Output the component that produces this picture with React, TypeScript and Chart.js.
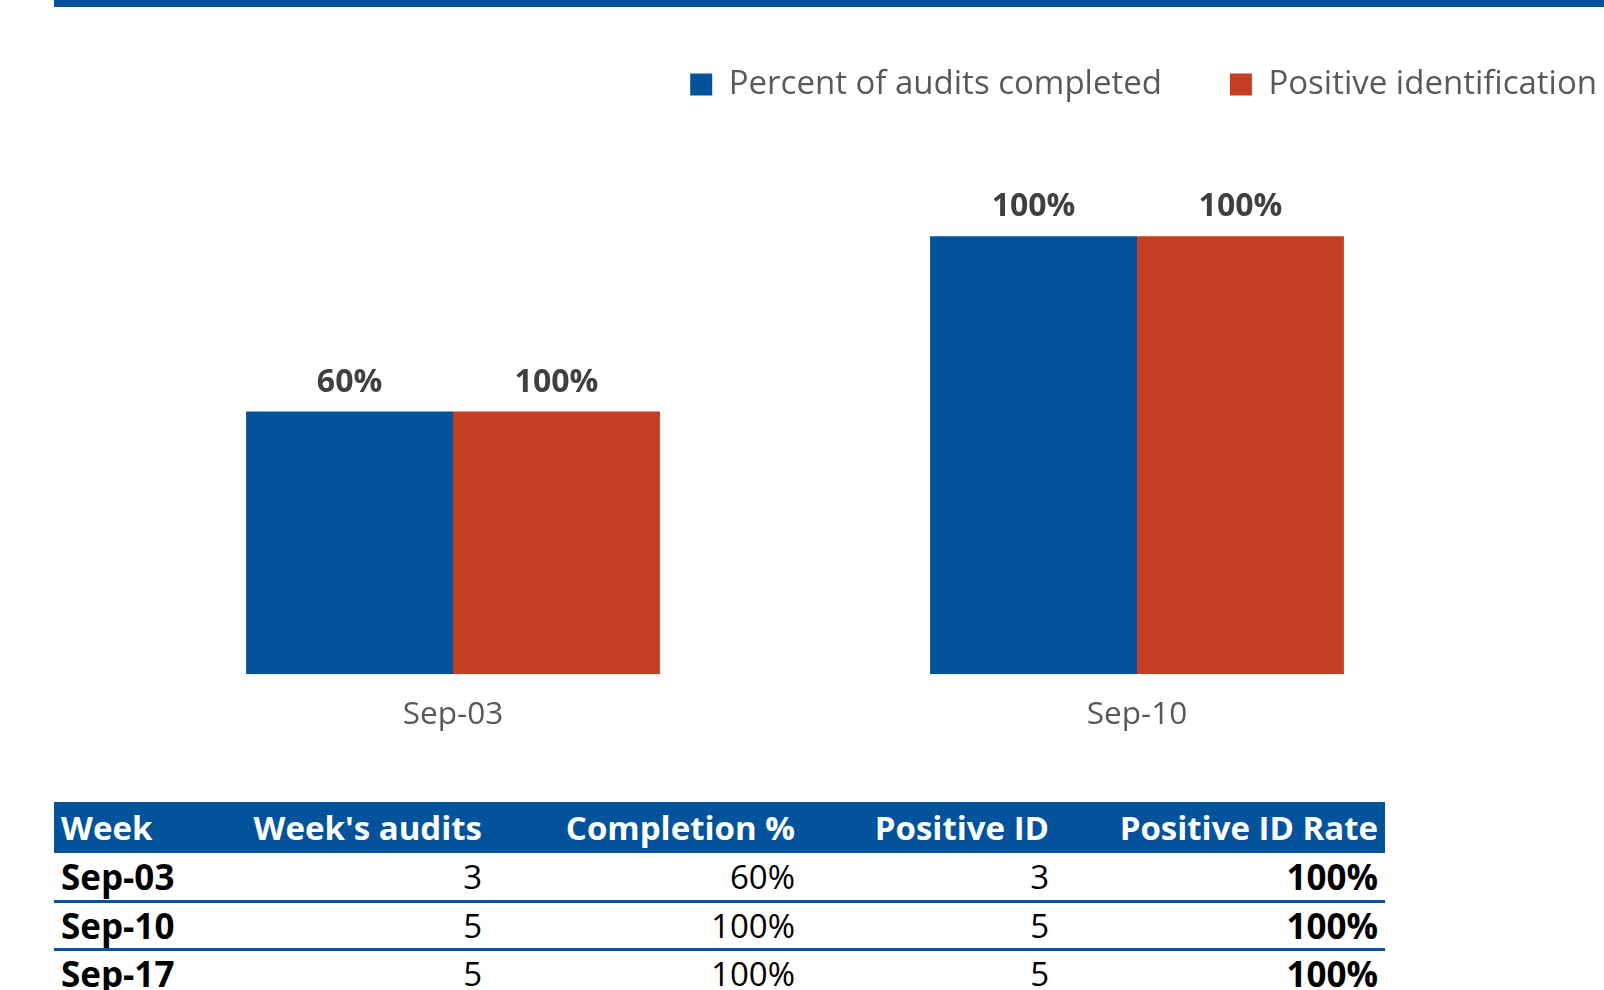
import React, { useEffect, useRef } from "react";
import { Chart, registerables } from "chart.js";

Chart.register(...registerables);

const categories = ["Sep-03", "Sep-10"];
const seriesNames = ["Percent of audits completed", "Positive identification"];
const completionPct = [60, 100];
const positiveIdBar = [60, 100];
const completionLabels = ["60%", "100%"];
const positiveIdLabels = ["100%", "100%"];

const tableHeaders = ["Week", "Week's audits", "Completion %", "Positive ID", "Positive ID Rate"];
const tableWeeks = ["Sep-03", "Sep-10", "Sep-17"];
const tableAudits = [3, 5, 5];
const tableCompletion = ["60%", "100%", "100%"];
const tablePositiveId = [3, 5, 5];
const tableRate = ["100%", "100%", "100%"];

const BLUE = "#02539C";
const RED = "#C43E23";
const FONT = "'Open Sans', 'Noto Sans', sans-serif";

const legendShift = {
  id: "legendShift",
  afterLayout(chart: any) {
    const l = chart.legend;
    if (l) {
      l.left += 61;
      l.right += 61;
    }
  },
};

const labelSets = [completionLabels, positiveIdLabels];

const barLabels = {
  id: "barLabels",
  afterDatasetsDraw(chart: any) {
    const ctx = chart.ctx;
    ctx.save();
    ctx.font = `bold 32px ${FONT}`;
    ctx.fillStyle = "#404040";
    ctx.textAlign = "center";
    ctx.textBaseline = "middle";
    chart.data.datasets.forEach((_ds: any, i: number) => {
      const meta = chart.getDatasetMeta(i);
      meta.data.forEach((bar: any, j: number) => {
        ctx.fillText(labelSets[i][j], bar.x, bar.y - 29);
      });
    });
    ctx.restore();
  },
};

export default function App() {
  const ref = useRef<HTMLCanvasElement>(null);
  useEffect(() => {
    if (!ref.current) return;
    const chart = new Chart(ref.current, {
      type: "bar",
      data: {
        labels: categories,
        datasets: [
          { label: seriesNames[0], data: completionPct, backgroundColor: BLUE, barPercentage: 1, categoryPercentage: 0.605 },
          { label: seriesNames[1], data: positiveIdBar, backgroundColor: RED, barPercentage: 1, categoryPercentage: 0.605 },
        ],
      },
      options: {
        animation: false,
        responsive: false,
        layout: { padding: 0 },
        plugins: {
          legend: {
            position: "top",
            align: "end",
            labels: {
              boxWidth: 22,
              boxHeight: 22,
              padding: 68,
              color: "#595959",
              font: { family: FONT, size: 33 },
            },
          },
          tooltip: { enabled: false },
        },
        scales: {
          x: {
            grid: { display: false, drawTicks: false },
            border: { display: false },
            ticks: { color: "#595959", font: { family: FONT, size: 31.5 }, padding: 22 },
          },
          y: {
            min: 0,
            max: 128.6,
            grid: { display: false, drawTicks: false },
            border: { display: false },
            ticks: { display: false },
            afterFit: (s: any) => { s.width = 111; },
          },
          y2: {
            position: "right",
            grid: { display: false, drawTicks: false },
            border: { display: false },
            ticks: { display: false },
            afterFit: (s: any) => { s.width = 125; },
          },
        },
      },
      plugins: [legendShift, barLabels],
    });
    return () => chart.destroy();
  }, []);

  const cellBase: React.CSSProperties = {
    padding: "0 7px",
    whiteSpace: "nowrap",
    overflow: "hidden",
  };
  const widths = [126, 309, 313, 254, 329];

  return (
    <div style={{ position: "absolute", left: 0, top: 0, width: 1604, height: 990, overflow: "hidden", background: "#fff", fontFamily: FONT }}>
      <div style={{ position: "absolute", left: 54, top: 0, width: 1550, height: 7, background: BLUE }} />
      <canvas ref={ref} width={1604} height={756} style={{ position: "absolute", left: 0, top: 0, display: "block" }} />
      <table
        style={{
          position: "absolute",
          left: 54,
          top: 802,
          width: 1331,
          borderCollapse: "collapse",
          tableLayout: "fixed",
          fontFamily: FONT,
        }}
      >
        <colgroup>
          {widths.map((w, i) => (
            <col key={i} style={{ width: w }} />
          ))}
        </colgroup>
        <thead>
          <tr style={{ background: BLUE, height: 51 }}>
            {tableHeaders.map((h, i) => (
              <th
                key={h}
                style={{
                  ...cellBase,
                  color: "#fff",
                  fontWeight: 700,
                  fontSize: 33,
                  textAlign: i === 0 ? "left" : "right",
                  lineHeight: "51px",
                }}
              >
                {h}
              </th>
            ))}
          </tr>
        </thead>
        <tbody>
          {tableWeeks.map((w, r) => (
            <tr key={w} style={{ height: 48, borderBottom: `3px solid ${BLUE}` }}>
              <td style={{ ...cellBase, fontWeight: 700, fontSize: 35, color: "#000", textAlign: "left", lineHeight: "45px" }}>{w}</td>
              <td style={{ ...cellBase, fontSize: 33, color: "#000", textAlign: "right", lineHeight: "45px" }}>{tableAudits[r]}</td>
              <td style={{ ...cellBase, fontSize: 33, color: "#000", textAlign: "right", lineHeight: "45px" }}>{tableCompletion[r]}</td>
              <td style={{ ...cellBase, fontSize: 33, color: "#000", textAlign: "right", lineHeight: "45px" }}>{tablePositiveId[r]}</td>
              <td style={{ ...cellBase, fontWeight: 700, fontSize: 35, color: "#000", textAlign: "right", lineHeight: "45px" }}>{tableRate[r]}</td>
            </tr>
          ))}
        </tbody>
      </table>
    </div>
  );
}
